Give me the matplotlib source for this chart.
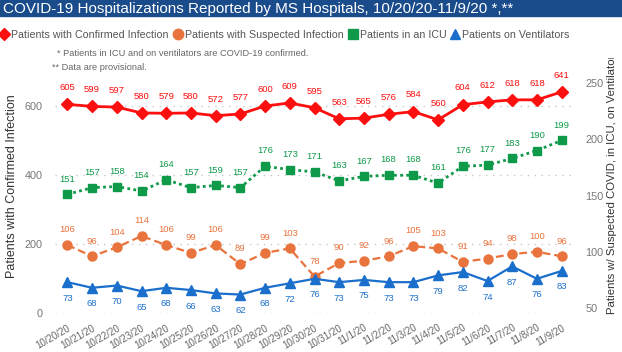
import numpy as np
import matplotlib
matplotlib.use('Agg')
import matplotlib.pyplot as plt
from matplotlib.lines import Line2D
from matplotlib.patches import Rectangle
from matplotlib.transforms import Bbox, TransformedBbox

# daily values
dates = ['10/20/20', '10/21/20', '10/22/20', '10/23/20', '10/24/20', '10/25/20',
         '10/26/20', '10/27/20', '10/28/20', '10/29/20', '10/30/20', '10/31/20',
         '11/1/20', '11/2/20', '11/3/20', '11/4/20', '11/5/20', '11/6/20',
         '11/7/20', '11/8/20', '11/9/20']
confirmed = [605, 599, 597, 580, 579, 580, 572, 577, 600, 609, 595,
             563, 565, 576, 584, 560, 604, 612, 618, 618, 641]
suspected = [106, 96, 104, 114, 106, 99, 106, 89, 99, 103, 78,
             90, 92, 96, 105, 103, 91, 94, 98, 100, 96]
icu = [151, 157, 158, 154, 164, 157, 159, 157, 176, 173, 171,
       163, 167, 168, 168, 161, 176, 177, 183, 190, 199]
vent = [73, 68, 70, 65, 68, 66, 63, 62, 68, 72, 76,
        73, 75, 73, 73, 79, 82, 74, 87, 76, 83]

legend_labels = ['Patients with Confirmed Infection', 'Patients with Suspected Infection',
                 'Patients in an ICU', 'Patients on Ventilators']

RED = '#fb0f0f'
ORANGE = '#e9733c'
GREEN = '#0f9a4a'
BLUE = '#1b6fcc'

plt.rcParams['font.family'] = ['Liberation Sans', 'DejaVu Sans']

W, H = 622, 352
fig = plt.figure(figsize=(W / 100, H / 100), dpi=100)

# blue title bar
fig.patches.append(Rectangle((0, 1 - 16 / H), 1, 16 / H, transform=fig.transFigure,
                             color='#1a4c8b', zorder=0))
fig.text(3 / W, 1 - 8.5 / H,
         'COVID-19 Hospitalizations Reported by MS Hospitals, 10/20/20-11/9/20 *,**',
         color='white', fontsize=11, va='center', ha='left')

ax = fig.add_axes([55 / W, 39 / H, 519 / W, 238 / H])
ax2 = ax.twinx()
x = np.arange(len(dates))

ax.plot(x, confirmed, color=RED, lw=2, marker='D', ms=6, zorder=3)
ax2.plot(x, suspected, color=ORANGE, lw=1.6, ls=(0, (3.5, 1.8)), marker='o', ms=6.5)
ax2.plot(x, icu, color=GREEN, lw=2, ls=(0, (1, 1.2)), marker='s', ms=5.5)
ax2.plot(x, vent, color=BLUE, lw=1.6, marker='^', ms=6.5)

# data labels
lab = dict(textcoords='offset points', ha='center', va='center', fontsize=6.8)
for i in x:
    ax.annotate(str(confirmed[i]), (i, confirmed[i]), xytext=(0, 12), color=RED, **lab)
    ax2.annotate(str(suspected[i]), (i, suspected[i]), xytext=(0, 11), color=ORANGE, **lab)
    ax2.annotate(str(icu[i]), (i, icu[i]), xytext=(0, 11), color=GREEN, **lab)
    ax2.annotate(str(vent[i]), (i, vent[i]), xytext=(0, -11.5), color=BLUE, **lab)

ax.set_xlim(-0.5, 20.5)
ax.set_ylim(0, 690)
ax2.set_ylim(45.6, 257.1)
ax.set_yticks([0, 200, 400, 600])
ax2.set_yticks([50, 100, 150, 200, 250])
ax.set_xticks(x)
ax.set_xticklabels(dates, rotation=30, ha='right', rotation_mode='anchor',
                   fontsize=7, color='#666666')
ax.tick_params(axis='x', length=0, pad=7)
ax.tick_params(axis='y', length=0, pad=9, labelsize=7.8, labelcolor='#777777')
ax2.tick_params(axis='y', length=0, pad=8, labelsize=7.8, labelcolor='#777777')
for a in (ax, ax2):
    for s in a.spines.values():
        s.set_visible(False)
ax.grid(axis='y', color='#c8c8c8', ls=(0, (1, 4)), lw=1)
ax.set_axisbelow(True)

# legend and notes
handles = [Line2D([], [], ls='none', marker='D', color=RED, ms=6),
           Line2D([], [], ls='none', marker='o', color=ORANGE, ms=7.5),
           Line2D([], [], ls='none', marker='s', color=GREEN, ms=7),
           Line2D([], [], ls='none', marker='^', color=BLUE, ms=7)]
fig.legend(handles, legend_labels, loc='center left', bbox_to_anchor=(0, 1 - 35 / H), ncol=4,
           frameon=False, fontsize=7.7, handlelength=0.8, handletextpad=0.25,
           columnspacing=0.45, borderpad=0, borderaxespad=0, labelcolor='#555555')
fig.text(57 / W, 1 - 54 / H, '* Patients in ICU and on ventilators are COVID-19 confirmed.',
         fontsize=6.7, color='#666666', va='center')
fig.text(52 / W, 1 - 68 / H, '** Data are provisional.', fontsize=6.7, color='#666666', va='center')

# axis titles
fig.text(12 / W, 1 - 186 / H, 'Patients with Confirmed Infection', rotation=90,
         ha='center', va='center', fontsize=9, color='#333333')
rt = fig.text(612 / W, 1 - 314 / H, 'Patients w/ Suspected COVID, in ICU, on Ventilator',
              rotation=90, ha='center', va='bottom', fontsize=8.2, color='#333333')
rt.set_clip_box(TransformedBbox(Bbox.from_extents(0, 0, 1, 1 - 58 / H), fig.transFigure))

fig.savefig('out.png', dpi=100)
